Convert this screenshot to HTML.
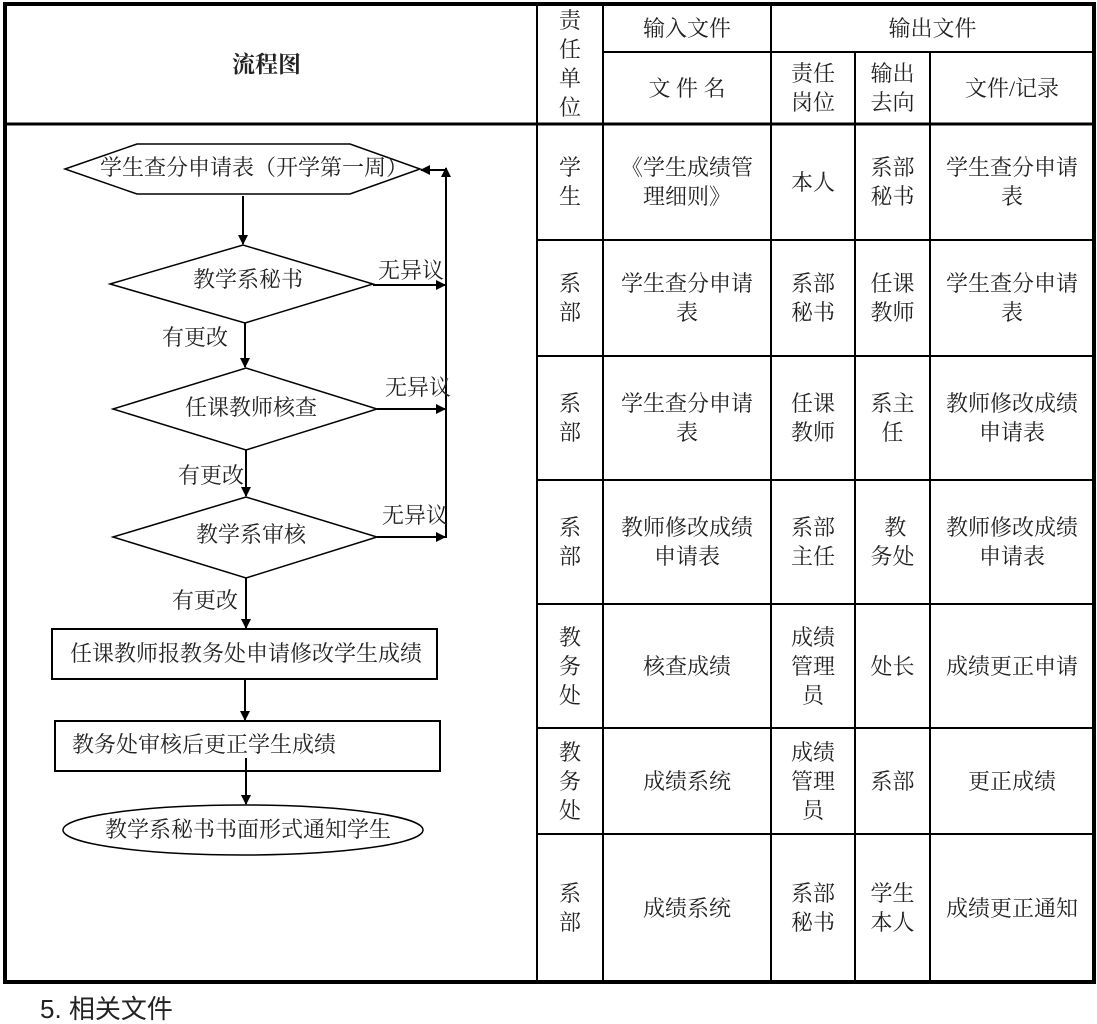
<!DOCTYPE html>
<html><head><meta charset="utf-8"><style>
body{margin:0;width:1097px;height:1012px;background:#fff;overflow:hidden;position:relative;font-family:"Liberation Serif","Noto Serif CJK SC",serif;color:#222}
.c{position:absolute;display:flex;align-items:center;justify-content:center;text-align:center;font-size:22px;line-height:29px;font-family:"Liberation Serif","Noto Serif CJK SC",serif}
.t{position:absolute;font-size:22px;line-height:26px;white-space:nowrap}
svg{position:absolute;left:0;top:0}
</style></head><body>
<svg width="1097" height="1012">
<defs><marker id="a" markerWidth="10" markerHeight="10" refX="9" refY="5" orient="auto" markerUnits="userSpaceOnUse"><path d="M0,0 L10,5 L0,10z" fill="#000"/></marker></defs>
<g stroke="#000" fill="none">
<rect x="5" y="4" width="1089" height="978" stroke-width="4"/>
<line x1="537" y1="4" x2="537" y2="982" stroke-width="2"/>
<line x1="603" y1="4" x2="603" y2="982" stroke-width="2"/>
<line x1="771" y1="4" x2="771" y2="982" stroke-width="2"/>
<line x1="855" y1="52" x2="855" y2="982" stroke-width="2"/>
<line x1="930" y1="52" x2="930" y2="982" stroke-width="2"/>
<line x1="603" y1="52" x2="1094" y2="52" stroke-width="2"/>
<line x1="5" y1="124" x2="1094" y2="124" stroke-width="3"/>
<line x1="537" y1="240" x2="1094" y2="240" stroke-width="2"/>
<line x1="537" y1="356" x2="1094" y2="356" stroke-width="2"/>
<line x1="537" y1="480" x2="1094" y2="480" stroke-width="2"/>
<line x1="537" y1="604" x2="1094" y2="604" stroke-width="2"/>
<line x1="537" y1="728" x2="1094" y2="728" stroke-width="2"/>
<line x1="537" y1="834" x2="1094" y2="834" stroke-width="2"/>
</g>
<g stroke="#000" fill="none" stroke-width="1.5">
<polygon points="65,169 137,144 350,144 420,169 350,194 137,194"/>
<polygon points="110,284 243,245 373,284 245,323"/>
<polygon points="113,409 246,368 377,409 246,450"/>
<polygon points="113,537 246,497 377,537 246,578"/>
<rect x="52" y="629" width="385" height="50" stroke-width="2"/>
<rect x="55" y="721" width="385" height="50" stroke-width="2"/>
<ellipse cx="243" cy="830" rx="180" ry="25"/>
</g>
<g stroke="#000" stroke-width="2" fill="none" marker-end="url(#a)">
<line x1="243" y1="196" x2="243" y2="244"/>
<line x1="245" y1="323" x2="245" y2="367"/>
<line x1="246" y1="450" x2="246" y2="496"/>
<line x1="246" y1="578" x2="246" y2="628"/>
<line x1="245" y1="679" x2="245" y2="720"/>
<line x1="246" y1="758" x2="246" y2="804"/>
<line x1="373" y1="285" x2="445" y2="285"/>
<line x1="377" y1="409" x2="445" y2="409"/>
<line x1="377" y1="537" x2="445" y2="537"/>
<line x1="446" y1="538" x2="446" y2="168"/>
<line x1="446" y1="170" x2="421" y2="170"/>
</g>
</svg>
<div class="t" style="left:232px;top:52px;font-weight:bold;font-size:23px">流程图</div>
<div class="t" style="left:100px;top:155px">学生查分申请表（开学第一周）</div>
<div class="t" style="left:193px;top:267px">教学系秘书</div>
<div class="t" style="left:378px;top:258px">无异议</div>
<div class="t" style="left:162px;top:325px">有更改</div>
<div class="t" style="left:185px;top:395px">任课教师核查</div>
<div class="t" style="left:385px;top:375px">无异议</div>
<div class="t" style="left:178px;top:463px">有更改</div>
<div class="t" style="left:196px;top:522px">教学系审核</div>
<div class="t" style="left:382px;top:503px">无异议</div>
<div class="t" style="left:172px;top:588px">有更改</div>
<div class="t" style="left:70px;top:641px">任课教师报教务处申请修改学生成绩</div>
<div class="t" style="left:72px;top:732px">教务处审核后更正学生成绩</div>
<div class="t" style="left:105px;top:817px">教学系秘书书面形式通知学生</div>
<div class="t" style="left:40px;top:994px;font-size:26px;line-height:30px;font-family:'Liberation Sans','Noto Sans CJK SC',sans-serif">5. 相关文件</div>

<div class="c" style="left:537px;top:4px;width:66px;height:120px;align-items:flex-start;padding-top:2px;box-sizing:border-box">责<br>任<br>单<br>位</div>
<div class="c" style="left:603px;top:4px;width:168px;height:48px">输入文件</div>
<div class="c" style="left:771px;top:4px;width:323px;height:48px">输出文件</div>
<div class="c" style="left:603px;top:52px;width:168px;height:72px">文&nbsp;件&nbsp;名</div>
<div class="c" style="left:771px;top:52px;width:84px;height:72px">责任<br>岗位</div>
<div class="c" style="left:855px;top:52px;width:75px;height:72px">输出<br>去向</div>
<div class="c" style="left:930px;top:52px;width:164px;height:72px">文件/记录</div>

<div class="c" style="left:537px;top:124px;width:66px;height:116px">学<br>生</div>
<div class="c" style="left:603px;top:124px;width:168px;height:116px">《学生成绩管<br>理细则》</div>
<div class="c" style="left:771px;top:124px;width:84px;height:116px">本人</div>
<div class="c" style="left:855px;top:124px;width:75px;height:116px">系部<br>秘书</div>
<div class="c" style="left:930px;top:124px;width:164px;height:116px">学生查分申请<br>表</div>

<div class="c" style="left:537px;top:240px;width:66px;height:116px">系<br>部</div>
<div class="c" style="left:603px;top:240px;width:168px;height:116px">学生查分申请<br>表</div>
<div class="c" style="left:771px;top:240px;width:84px;height:116px">系部<br>秘书</div>
<div class="c" style="left:855px;top:240px;width:75px;height:116px">任课<br>教师</div>
<div class="c" style="left:930px;top:240px;width:164px;height:116px">学生查分申请<br>表</div>

<div class="c" style="left:537px;top:356px;width:66px;height:124px">系<br>部</div>
<div class="c" style="left:603px;top:356px;width:168px;height:124px">学生查分申请<br>表</div>
<div class="c" style="left:771px;top:356px;width:84px;height:124px">任课<br>教师</div>
<div class="c" style="left:855px;top:356px;width:75px;height:124px">系主<br>任</div>
<div class="c" style="left:930px;top:356px;width:164px;height:124px">教师修改成绩<br>申请表</div>

<div class="c" style="left:537px;top:480px;width:66px;height:124px">系<br>部</div>
<div class="c" style="left:603px;top:480px;width:168px;height:124px">教师修改成绩<br>申请表</div>
<div class="c" style="left:771px;top:480px;width:84px;height:124px">系部<br>主任</div>
<div class="c" style="left:855px;top:480px;width:75px;height:124px">&nbsp;教<br>务处</div>
<div class="c" style="left:930px;top:480px;width:164px;height:124px">教师修改成绩<br>申请表</div>

<div class="c" style="left:537px;top:604px;width:66px;height:124px">教<br>务<br>处</div>
<div class="c" style="left:603px;top:604px;width:168px;height:124px">核查成绩</div>
<div class="c" style="left:771px;top:604px;width:84px;height:124px">成绩<br>管理<br>员</div>
<div class="c" style="left:855px;top:604px;width:75px;height:124px">处长</div>
<div class="c" style="left:930px;top:604px;width:164px;height:124px">成绩更正申请</div>

<div class="c" style="left:537px;top:728px;width:66px;height:106px">教<br>务<br>处</div>
<div class="c" style="left:603px;top:728px;width:168px;height:106px">成绩系统</div>
<div class="c" style="left:771px;top:728px;width:84px;height:106px">成绩<br>管理<br>员</div>
<div class="c" style="left:855px;top:728px;width:75px;height:106px">系部</div>
<div class="c" style="left:930px;top:728px;width:164px;height:106px">更正成绩</div>

<div class="c" style="left:537px;top:834px;width:66px;height:148px">系<br>部</div>
<div class="c" style="left:603px;top:834px;width:168px;height:148px">成绩系统</div>
<div class="c" style="left:771px;top:834px;width:84px;height:148px">系部<br>秘书</div>
<div class="c" style="left:855px;top:834px;width:75px;height:148px">学生<br>本人</div>
<div class="c" style="left:930px;top:834px;width:164px;height:148px">成绩更正通知</div>
</body></html>
